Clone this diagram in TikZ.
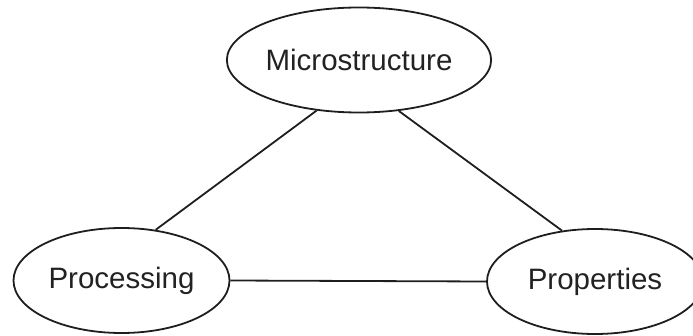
\documentclass[tikz,border=0pt]{standalone}
\usepackage{fontspec}
\setmainfont{Liberation Sans}
\usepackage{xcolor}
\usepackage{tikz}
\usetikzlibrary{shapes.geometric,positioning}
\definecolor{inkc}{HTML}{1E1E1E}
\definecolor{txtc}{HTML}{222222}
\tikzset{
  bub/.style={ellipse,draw=inkc,line width=1.8pt,minimum width=216pt,minimum height=105pt,inner sep=0pt,text=txtc,font=\fontsize{29.5}{34}\selectfont},
  ln/.style={inkc,line width=1.8pt}
}
\begin{document}
\begin{tikzpicture}[x=1pt,y=1pt]
\useasboundingbox (0,0) rectangle (693,335);
\node[bub] (micro) at (359,275) {Microstructure};
\node[bub] (proc) at (121.5,54.5) {Processing};
\node[bub] (prop) at (595,53.5) {Properties};
\draw[ln] (micro.230) -- (proc.56);
\draw[ln] (micro.308) -- (prop.123);
\draw[ln] (proc.east) -- (prop.west);
\end{tikzpicture}
\end{document}
